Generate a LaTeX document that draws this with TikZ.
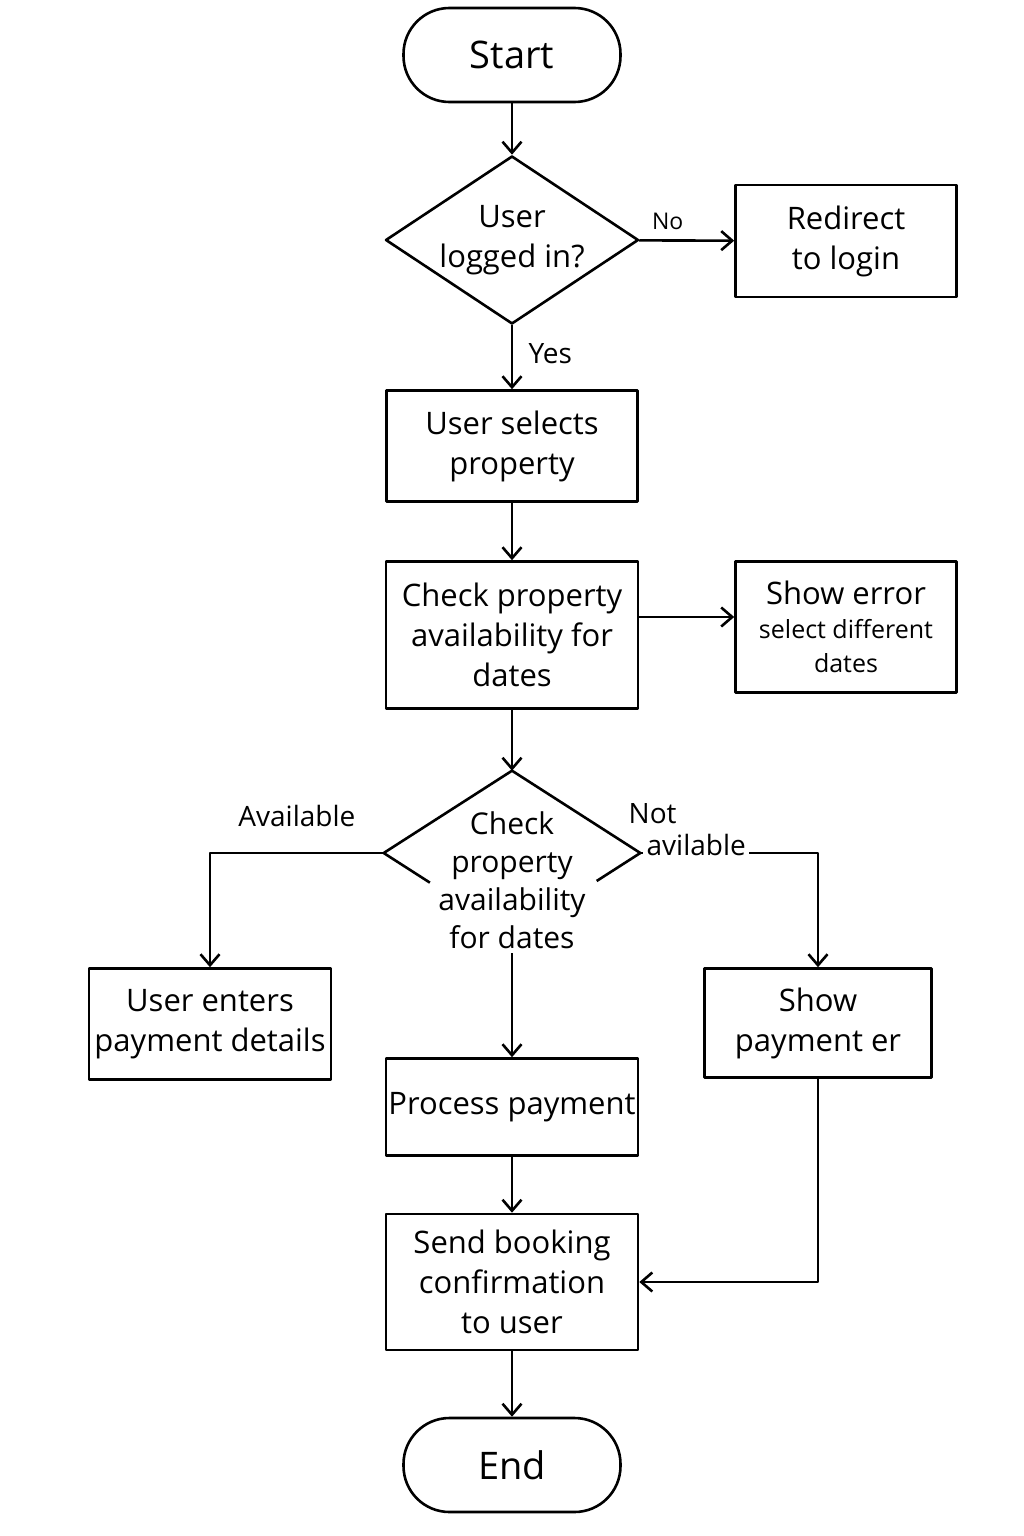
\documentclass[tikz,border=0pt]{standalone}
\usepackage{fontspec}
\setmainfont{Open Sans}
\usetikzlibrary{%
  shapes.geometric,%
  calc,%
  arrows.meta%
}
\newcommand{\smalltxt}[1]{{\fontsize{25}{30}\selectfont #1}}

\begin{document}
\begin{tikzpicture}[x=1pt,y=-1pt,line width=2.6pt,line join=round,
  >={Straight Barb[length=11pt,width=19pt]},
  every node/.style={font=\fontsize{31}{40}\selectfont,align=center},
  box/.style={draw,rectangle,inner sep=2pt},
  term/.style={draw,rectangle,rounded corners=46pt,minimum width=217pt,minimum height=94pt,font=\fontsize{38}{40}\selectfont},
  decision/.style={diamond,inner sep=0pt,shape aspect=1.5},
  lbl/.style={font=\fontsize{28}{32}\selectfont}]

\useasboundingbox[fill=white] (0,0) rectangle (1024,1536);

\node[term] (start) at (512,55) {Start};
\node[decision,draw,minimum width=253pt,minimum height=168pt] (login) at (512,240) {User\\logged in?};
\node[box,minimum width=221pt,minimum height=112pt] (redir) at (846,241) {Redirect\\to login};
\node[box,minimum width=251pt,minimum height=111pt] (sel) at (512,446) {User selects\\property};
\node[box,minimum width=252pt,minimum height=147pt] (chk) at (512,635) {Check property\\availability for\\dates};
\node[box,minimum width=221pt,minimum height=131pt] (err) at (846,627) {Show error\\[-6pt]\smalltxt{select different}\\[-6pt]\smalltxt{dates}};
%
\node[decision,minimum width=254pt,minimum height=162pt] (avail) at (512,853) {};
\node[font=\fontsize{30}{38}\selectfont] (availtxt) at (512,880) {Check\\property\\availability\\for dates};
%
\node[box,minimum width=242pt,minimum height=111pt] (pay) at (210,1024) {User enters\\payment details};
\node[box,minimum width=227pt,minimum height=109pt] (perr) at (818,1023) {Show\\payment er};
\node[box,minimum width=252pt,minimum height=97pt] (proc) at (512,1107) {Process payment};
\node[box,minimum width=252pt,minimum height=136pt] (send) at (512,1282) {Send booking\\confirmation\\to user};
\node[term] (end) at (512,1465) {End};

\draw (avail.west) -- (avail.north) -- (avail.east);
\draw (avail.west) -- ($(avail.west)!0.36!(avail.south)$);
\draw (avail.east) -- ($(avail.east)!0.34!(avail.south)$);

\draw[->] (start) edge (login)
          (login) edge node[lbl,above,pos=0.3,yshift=6pt,font=\fontsize{23}{28}\selectfont] {No} (redir)
          (login) edge node[lbl,right,pos=0.45,xshift=12pt] {Yes} (sel)
          (sel) edge (chk)
          (chk) edge (avail)
          (availtxt) edge (proc)
          (proc) edge (send)
          (send) edge (end)
;
\draw[->] ([yshift=18pt]chk.east) -- ([yshift=18pt]chk.east -| err.west);
\draw[->] (avail.west) -| node[lbl,above,pos=0.25,yshift=22pt] {Available} (pay);
\draw[->] (avail.east) -| (perr);
\node[lbl,fill=white,align=left,anchor=west] (notav) at (642,830) {\hspace*{-18pt}Not\\avilable};
\draw[->] (perr) |- (send);
\end{tikzpicture}
\end{document}
